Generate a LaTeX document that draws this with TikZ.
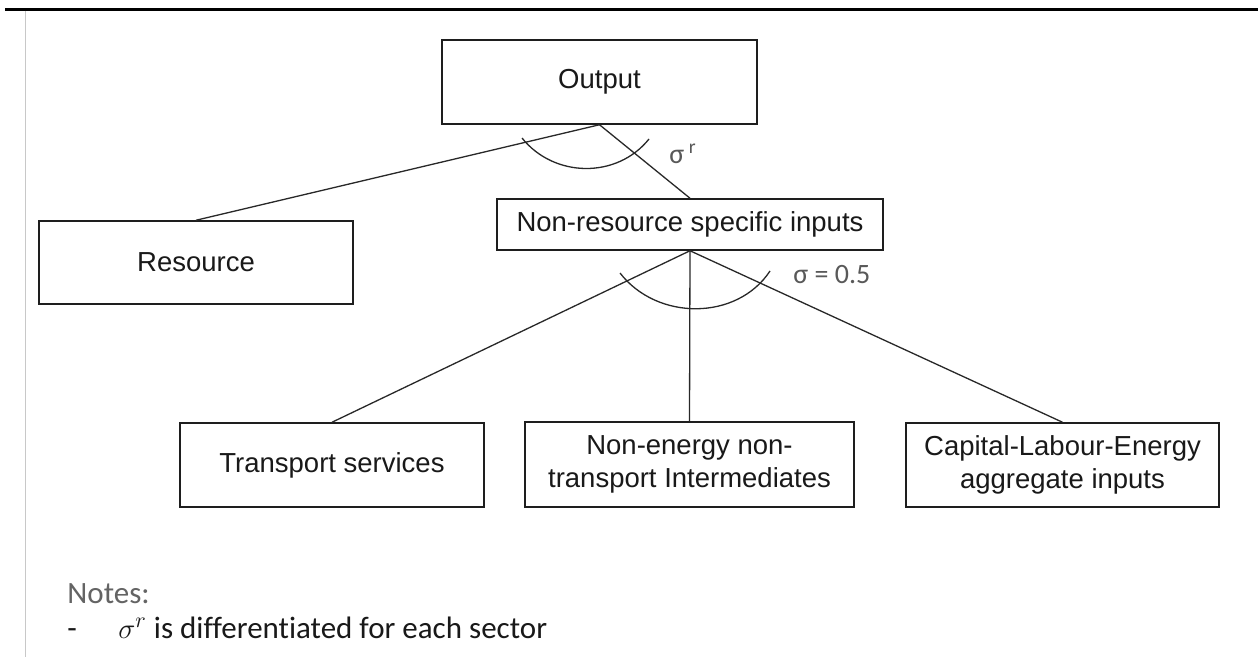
\documentclass[tikz,border=0pt]{standalone}
\usepackage{fontspec}
\setmainfont{Liberation Sans}
\newfontfamily\calfont[Ligatures={NoCommon}]{Carlito}
\definecolor{boxc}{RGB}{30,30,30}
\definecolor{linec}{RGB}{40,40,40}
\definecolor{labc}{RGB}{89,89,89}
\definecolor{notec}{RGB}{100,100,100}
\definecolor{textc}{RGB}{25,25,25}
\definecolor{rulec}{RGB}{200,200,200}
\begin{document}
\begin{tikzpicture}[x=0.5pt,y=-0.5pt,
  box/.style={draw=boxc, line width=0.75pt, inner sep=0pt, align=center,
    font=\fontsize{13.75pt}{16.5pt}\selectfont, text=textc},
  conn/.style={draw=linec, line width=0.65pt},
  siglab/.style={font=\calfont\fontsize{14pt}{16pt}\selectfont, text=labc, inner sep=0pt, anchor=base west},
  notelab/.style={font=\calfont\fontsize{15.5pt}{17pt}\selectfont, inner sep=0pt, anchor=base west}]
\fill[white] (0,0) rectangle (1258,657);
\useasboundingbox (0,0) rectangle (1258,657);
% page rules
\draw[black, line width=1.5pt] (5,9.5) -- (1258,9.5);
\draw[rulec, line width=0.75pt] (25.5,11) -- (25.5,657);
% boxes
\node[box, minimum width=157.5pt, minimum height=42pt] (out) at (599.5,82) {Output};
\node[box, minimum width=157pt, minimum height=41.5pt] (res) at (196,262.5) {Resource};
\node[box, minimum width=193pt, minimum height=25.5pt] (nrs) at (690,224.5) {Non-resource specific inputs};
\node[box, minimum width=152pt, minimum height=42pt] (trn) at (332,465) {Transport services};
\node[box, minimum width=164.5pt, minimum height=42.5pt] (mid) at (689.5,464.5) {Non-energy non-\\transport Intermediates};
\node[box, minimum width=156.5pt, minimum height=42pt] (cle) at (1062.5,465) {Capital-Labour-Energy\\aggregate inputs};
% connectors
\draw[conn] (out.south) -- (res.north);
\draw[conn] (out.south) -- (nrs.north);
\draw[conn] (nrs.south) -- (trn.north);
\draw[conn] (nrs.south) -- (mid.north);
\draw[conn] (nrs.south) -- (cle.north);
% elasticity arcs
\draw[conn] (522,138) .. controls (554,178) and (617,179) .. (649,139);
\draw[conn] (620,273) .. controls (657,321) and (737,321) .. (770,271);
% elasticity labels
\node[siglab] (sr) at (669,164) {σ\,\textsuperscript{r}};
\node[siglab] (sh) at (793,284) {σ = 0.5};
% notes
\node[notelab, text=notec] (notes) at (67,603) {Notes:};
\node[notelab, text=textc] (dash) at (67,638) {-};
\node[notelab, text=textc] (note1) at (118,638) {$\sigma^r$ is differentiated for each sector};
\end{tikzpicture}
\end{document}
